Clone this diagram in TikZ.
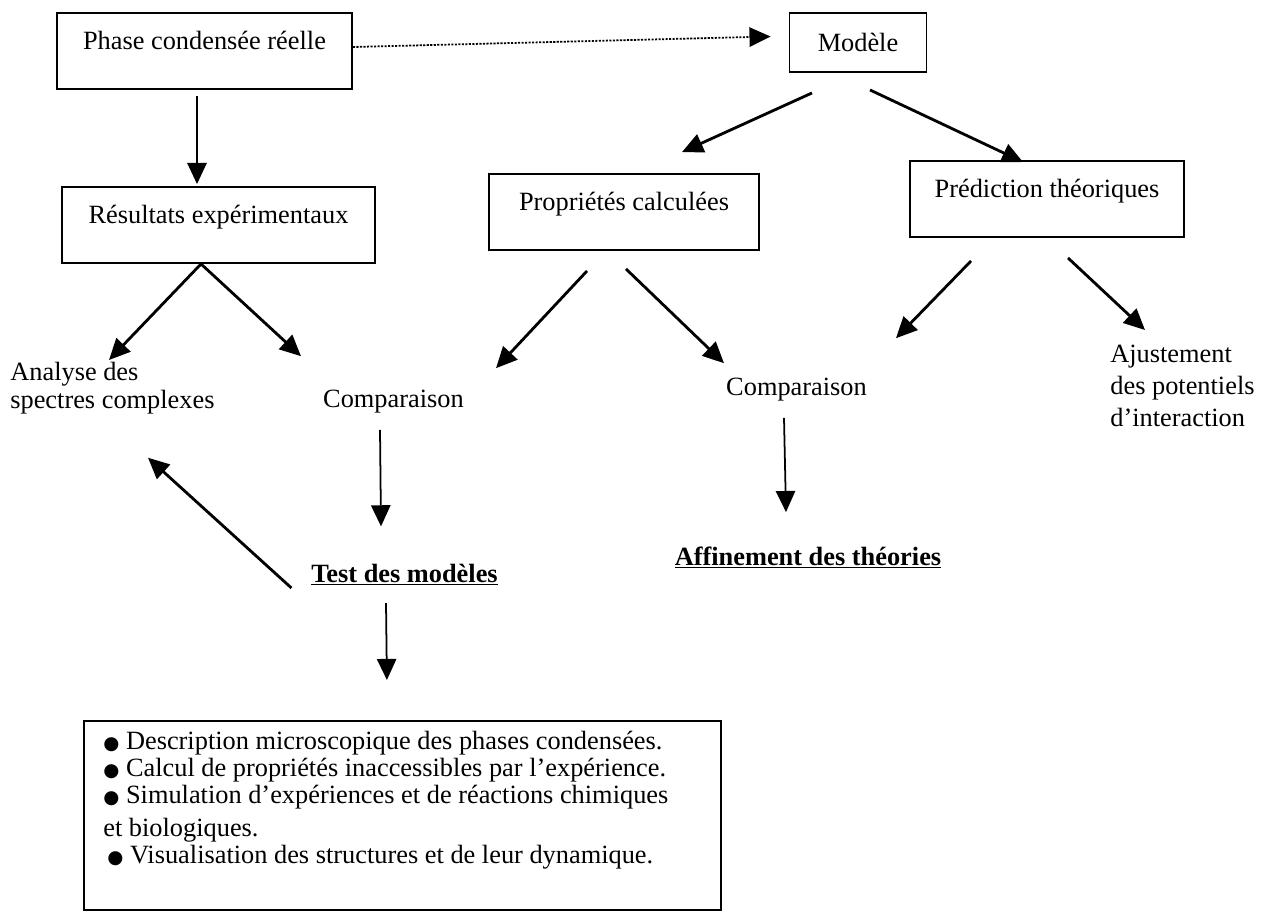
\documentclass[tikz,border=0pt]{standalone}
\usepackage{fontspec}
\setmainfont{Liberation Serif}
\newfontfamily\symbfont{DejaVu Sans}
\usepackage{graphicx}
\usetikzlibrary{arrows.meta,calc}

\newcommand{\puce}{{\symbfont\scalebox{0.7}{●}}}

\begin{document}
\begin{tikzpicture}[
    x = 0.02cm,
    y = -0.02cm,
    font = \fontsize{15}{18}\selectfont,
    >={Triangle[length=12pt,width=11pt]},
    boite/.style = {
      draw,
      line width = 1.1pt,
      inner sep = 0pt,
      text height = 0.72cm,
      text depth = 0.8cm
    },
    texte/.style = {inner sep = 0pt},
    titre/.style = {
      texte,
      anchor = base,
      font = \fontsize{15}{18}\selectfont\bfseries
    },
    fleche/.style = {->, line width = 1.6pt},
    descente/.style = {->, line width = 1pt}
  ]
  \useasboundingbox (0,0) rectangle (1273,919);

  % boites
  \node[boite, minimum width=5.9cm]  (phase)      at (204.5,51) {Phase condensée réelle};
  \node[draw, line width=1.1pt, minimum width=2.74cm, minimum height=1.18cm] (modele) at (858,42.5) {Modèle};
  \node[boite, minimum width=6.26cm] (resultats)  at (218.5,225) {Résultats expérimentaux};
  \node[boite, minimum width=5.4cm]  (proprietes) at (624,212) {Propriétés calculées};
  \node[boite, minimum width=5.48cm] (prediction) at (1047,199) {Prédiction théoriques};

  % textes libres
  \node[texte, anchor=north west, align=left, font=\fontsize{15}{16}\selectfont] (analyse) at (10,362) {Analyse des\\spectres complexes};
  \node[texte, anchor=base] (compexp)  at (393.5,407) {Comparaison};
  \node[texte, anchor=base] (comptheo) at (796.5,395) {Comparaison};
  \node[texte, anchor=north west, align=left] (ajustement) at (1110,345) {Ajustement\\des potentiels\\d’interaction};
  \node[titre] (test)       at (404.5,582) {\underline{Test des modèles}};
  \node[titre] (affinement) at (808,565)   {\underline{Affinement des théories}};

  \node[draw, line width=1.1pt, anchor=north west, minimum width=12.74cm, minimum height=3.78cm, inner sep=0pt] (cadre) at (83,720) {};
  \node[texte, anchor=north west, align=left, font=\fontsize{15}{15.3}\selectfont] (usages) at (103,731) {%
    \puce\ Description microscopique des phases condensées.\\
    \puce\ Calcul de propriétés inaccessibles par l’expérience.\\
    \puce\ Simulation d’expériences et de réactions chimiques\\[0.12cm]
    et biologiques.\\
    \hspace*{0.08cm}\puce\ Visualisation des structures et de leur dynamique.};

  % fleches
  \draw[->, line width=1pt, dash pattern=on 1.2pt off 0.8pt] ($(phase.east)+(0,-4)$) -- ($(modele.west)+(-18,-6)$);
  \draw[descente] ($(phase.south)+(-7.5,6)$) -- ($(resultats.north)+(-21.5,-2)$);
  \draw[fleche] ($(modele.south)+(-46,20)$) -- ($(proprietes.north)+(58,-21)$);
  \draw[fleche] ($(modele.south)+(12,17)$) -- ($(prediction.north)+(-24,2)$);
  \draw[fleche] ($(resultats.south)+(-17.5,0)$) -- ($(analyse.north west)+(99,-2)$);
  \draw[fleche] ($(resultats.south)+(-17.5,0)$) -- ($(compexp.north)+(-92.5,-33)$);
  \draw[fleche] ($(proprietes.south)+(-37,20)$) -- ($(compexp.north)+(102.5,-21)$);
  \draw[fleche] ($(proprietes.south)+(2,18)$) -- ($(comptheo.north)+(-72.5,-14)$);
  \draw[fleche] ($(prediction.south)+(-76,23)$) -- ($(comptheo.north)+(99.5,-39)$);
  \draw[fleche] ($(prediction.south)+(21,20)$) -- ($(ajustement.north west)+(35,-15)$);
  \draw[descente] ($(compexp.south)+(-13.5,17)$) -- ($(test.north)+(-23.5,-37)$);
  \draw[descente] ($(comptheo.south)+(-12.5,17)$) -- ($(affinement.north)+(-22,-34)$);
  \draw[fleche] ($(test.base west)+(-19.5,6)$) -- ($(analyse.south west)+(138,43)$);
  \draw[descente] ($(test.base)+(-18.5,21)$) -- ($(cadre.north)+(-15.5,-40)$);
\end{tikzpicture}
\end{document}
